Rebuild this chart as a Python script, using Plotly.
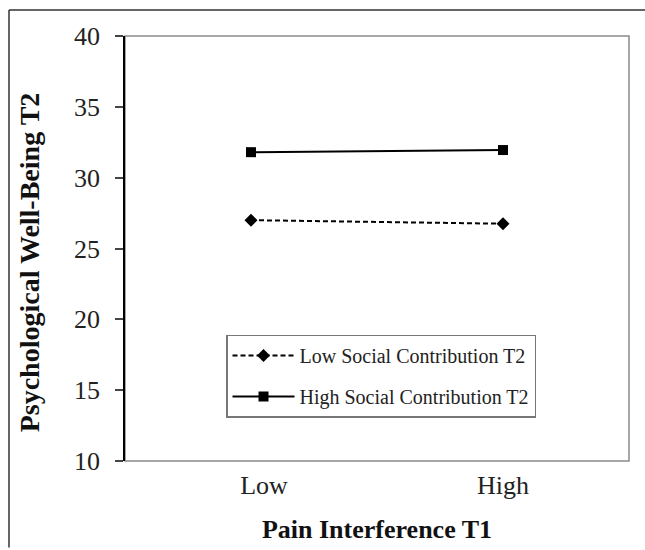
import plotly.graph_objects as go

categories = ["Low", "High"]
tick_labels = ["\u00a0\u00a0\u00a0\u00a0Low", "High"]
low_social = [27.0, 26.75]
high_social = [31.8, 31.95]
series_names = ["Low Social Contribution T2", "High Social Contribution T2"]
y_ticks = [10, 15, 20, 25, 30, 35, 40]

FONT = "Liberation Serif"

fig = go.Figure()
fig.add_trace(go.Scatter(
    x=categories, y=low_social, name=series_names[0], mode="lines+markers",
    line=dict(color="black", width=2, dash="5px,3px"),
    marker=dict(symbol="diamond", size=10, color="black"),
    legendgroup="a",
))
fig.add_trace(go.Scatter(
    x=categories, y=high_social, name=series_names[1], mode="lines+markers",
    line=dict(color="black", width=2),
    marker=dict(symbol="square", size=10, color="black"),
    legendgroup="b",
))

W, H = 645, 550
L, R, T, B = 125, 16, 36, 87
pw, ph = W - L - R, H - T - B

def px_x(x):
    return (x - L) / pw

def px_y(y):
    return (H - B - y) / ph

fig.update_layout(
    width=W, height=H,
    margin=dict(l=L, r=R, t=T, b=B),
    paper_bgcolor="white", plot_bgcolor="white",
    font=dict(family=FONT, color="#222"),
    showlegend=True,
    legend=dict(
        x=px_x(226), y=px_y(336), xanchor="left", yanchor="top",
        bordercolor="#777", borderwidth=1.5, bgcolor="white",
        font=dict(family=FONT, size=20, color="#222"),
        traceorder="grouped", tracegroupgap=12,
        itemwidth=62,
    ),
    xaxis=dict(
        type="category", categoryorder="array", categoryarray=categories,
        tickvals=categories, ticktext=tick_labels,
        range=[-0.5, 1.5], showgrid=False, zeroline=False, showline=False,
        ticks="", tickfont=dict(family=FONT, size=26, color="#222"),
        ticklabelstandoff=6,
        title=dict(text="<b>Pain Interference T1</b>", font=dict(family=FONT, size=26, color="#111"), standoff=20),
    ),
    yaxis=dict(
        range=[10, 40], tickvals=y_ticks, showgrid=False, zeroline=False,
        showline=True, linecolor="black", linewidth=1.5,
        ticks="outside", ticklen=8, tickcolor="#444", tickwidth=1.5,
        tickfont=dict(family=FONT, size=26, color="#222"),
        ticklabelstandoff=10,
        title=dict(text="<b>Psychological Well-Being T2\u00a0\u00a0\u00a0\u00a0</b>", font=dict(family=FONT, size=28, color="#111"), standoff=26),
    ),
    shapes=[
        dict(type="rect", xref="paper", yref="paper", x0=0, x1=1, y0=0, y1=1,
             line=dict(color="#8a8a8a", width=1.5), layer="below"),
        dict(type="line", xref="paper", yref="paper",
             x0=px_x(9), x1=px_x(9), y0=px_y(550), y1=px_y(10),
             line=dict(color="#333", width=1.5), layer="above"),
        dict(type="line", xref="paper", yref="paper",
             x0=px_x(9), x1=px_x(645), y0=px_y(10), y1=px_y(10),
             line=dict(color="#333", width=1.5), layer="above"),
    ],
)

fig.write_html("out.html", config={"displayModeBar": False},
               post_script="document.body.style.margin='0';document.body.style.padding='0';")
